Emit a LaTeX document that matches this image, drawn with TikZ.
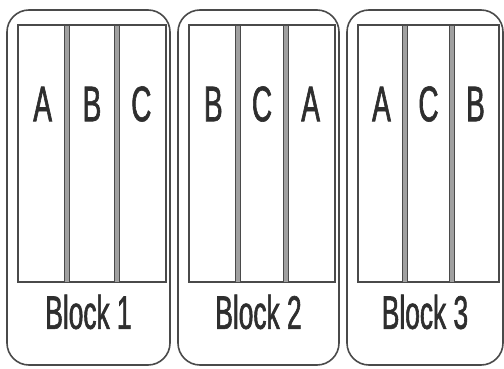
\documentclass[tikz,border=0pt]{standalone}
\usepackage{fontspec}
\newfontfamily\cond[FakeStretch=0.56,FakeBold=1.2]{Liberation Sans}
\definecolor{ink}{HTML}{4A4A4A}
\definecolor{txt}{HTML}{2E2E2E}
\definecolor{bar}{HTML}{A0A0A0}
\begin{document}
\begin{tikzpicture}[x=1pt,y=-1pt,
  blockbox/.style={draw=ink,line width=1.6pt,rounded corners=22pt},
  colbox/.style={draw=ink,line width=1.5pt},
  divider/.style={fill=bar,draw=ink,line width=0.9pt},
  letter/.style={text=txt,font=\cond\fontsize{50}{52}\selectfont,inner sep=0pt},
  blocklabel/.style={text=txt,font=\cond\fontsize{47}{50}\selectfont,inner sep=0pt}]
\useasboundingbox (0,0) rectangle (504,369);
\fill[white] (0,0) rectangle (504,369);
\foreach \i/\L/\R/\a/\b/\c in {1/7/170/A/B/C,2/178/339/B/C/A,3/347/503/A/C/B}{
  \pgfmathsetmacro\cl{\L+11}
  \pgfmathsetmacro\cr{\R-4}
  \pgfmathsetmacro\dw{(\cr-\cl)/3}
  \pgfmathsetmacro\da{\cl+\dw}
  \pgfmathsetmacro\db{\cl+2*\dw}
  \pgfmathsetmacro\xa{(\cl+\da)/2}
  \pgfmathsetmacro\xb{(\da+\db)/2}
  \pgfmathsetmacro\xc{(\db+\cr)/2}
  \pgfmathsetmacro\xm{(\L+\R)/2}
  \draw[blockbox] (\L,10) rectangle (\R,365);
  \draw[colbox] (\cl,25) rectangle (\cr,282);
  \draw[divider] (\da-2.5,25) rectangle (\da+2.5,282);
  \draw[divider] (\db-2.5,25) rectangle (\db+2.5,282);
  \node[letter] (l\i a) at (\xa,104) {\a};
  \node[letter] (l\i b) at (\xb,104) {\b};
  \node[letter] (l\i c) at (\xc,104) {\c};
  \node[blocklabel] (blk\i) at (\xm,312) {Block \i};
}
\end{tikzpicture}
\end{document}
